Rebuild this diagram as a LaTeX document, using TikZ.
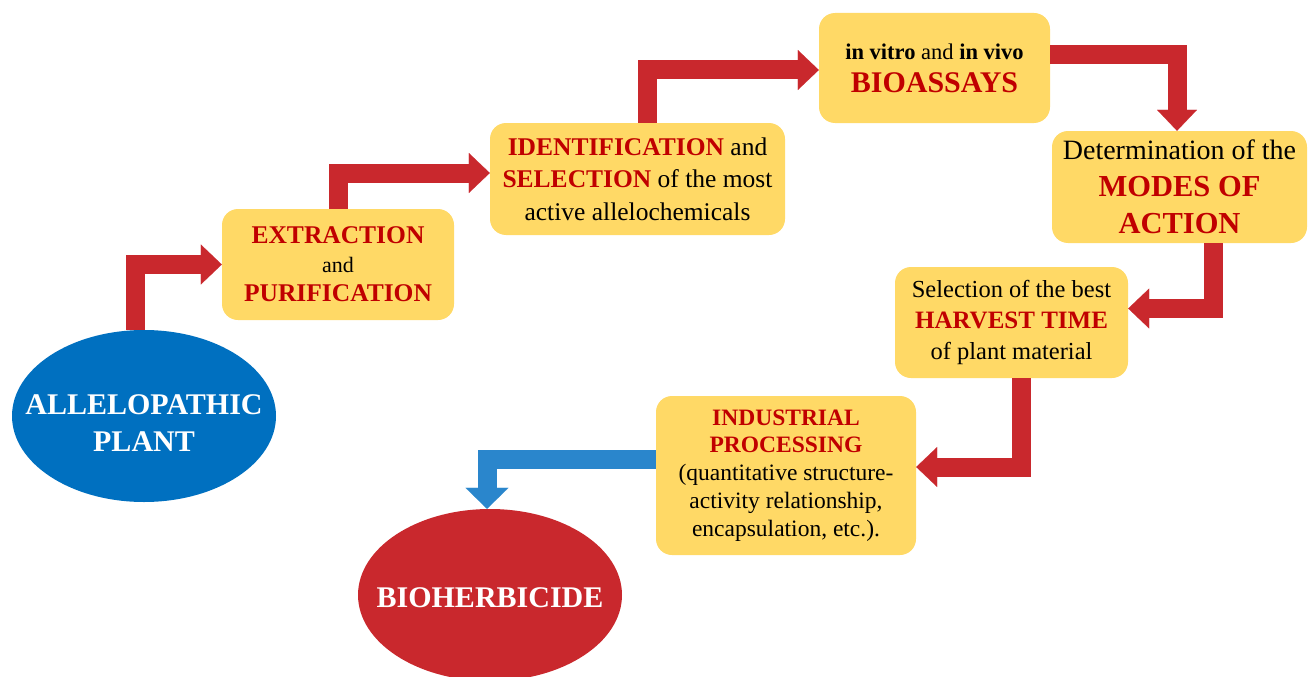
\documentclass[tikz,border=0pt]{standalone}
\usepackage{fontspec}
\setmainfont{Liberation Serif}
\usetikzlibrary{arrows.meta,shapes.geometric}
\definecolor{boxfill}{HTML}{FFD966}
\definecolor{arrred}{HTML}{C9282D}
\definecolor{txtred}{HTML}{C00000}
\definecolor{ellblue}{HTML}{0070C0}
\definecolor{arrblue}{HTML}{2A86CC}
\newcommand{\rb}[1]{\textcolor{txtred}{\textbf{#1}}}
\newcommand{\fs}[2]{\fontsize{#1}{#2}\selectfont}
\begin{document}
\begin{tikzpicture}[x=1pt,y=-1pt,
  stagebox/.style={fill=boxfill, rounded corners=16pt, inner sep=0pt, align=center, text=black},
  endnode/.style={ellipse, inner sep=0pt, minimum width=264pt, minimum height=172pt},
  endtext/.style={align=center, text=white, inner sep=0pt, font=\fs{30}{37}\bfseries},
  redflow/.style={draw=arrred, line width=19pt, line join=miter, -{Triangle[width=40pt,length=21pt,line width=0.1pt]}},
  blueflow/.style={draw=arrblue, line width=19pt, line join=miter, -{Triangle[width=43pt,length=21pt,line width=0.1pt]}}]
\useasboundingbox (0,0) rectangle (1309,677);

\node[endnode, fill=ellblue] (allelo) at (144,416) {};
\node[endtext, yshift=-7pt] (allelotext) at (allelo.center) {ALLELOPATHIC\\ PLANT};

\node[stagebox, minimum width=232pt, minimum height=111pt, font=\fs{25.5}{29}] (extract) at (338,264.5)
  {\rb{EXTRACTION}\\ {\fs{22}{29}and}\\ \rb{PURIFICATION}};

\node[stagebox, minimum width=295pt, minimum height=112pt, font=\fs{25.5}{32.5}] (ident) at (637.5,179)
  {\rb{IDENTIFICATION} and\\ \rb{SELECTION} of the most\\ active allelochemicals};

\node[stagebox, minimum width=231pt, minimum height=110pt, font=\fs{30}{33}] (bioassay) at (934.5,68)
  {{\fs{22.5}{33}\textbf{in vitro} and \textbf{in vivo}}\\ \rb{BIOASSAYS}};

\node[stagebox, minimum width=255pt, minimum height=112pt, font=\fs{30.5}{37}] (modes) at (1179.5,187)
  {{\fs{28}{37}Determination of the}\\ \rb{MODES OF}\\ \rb{ACTION}};

\node[stagebox, minimum width=233pt, minimum height=111pt, font=\fs{24.5}{31}] (harvest) at (1011.5,322.5)
  {Selection of the best\\ {\fs{25}{31}\rb{HARVEST TIME}}\\ of plant material};

\node[stagebox, minimum width=260pt, minimum height=159pt, font=\fs{23.5}{27.8}] (industrial) at (786,475.5)
  {\rb{INDUSTRIAL}\\ \rb{PROCESSING}\\ (quantitative structure-\\ activity relationship,\\ encapsulation, etc.).};

\node[endnode, fill=arrred] (bioh) at (490,595) {};
\node[endtext, yshift=-3pt] (biohtext) at (bioh.center) {BIOHERBICIDE};

\draw[redflow] ([xshift=-9pt]allelo.north) |- (extract.west);
\draw[redflow] (extract.north) |- ([yshift=6pt]ident.west);
\draw[redflow] ([xshift=10pt]ident.north) |- ([yshift=-2pt]bioassay.west);
\draw[redflow] ([yshift=13pt]bioassay.east) -| ([xshift=-2.5pt]modes.north);
\draw[redflow] ([xshift=34pt]modes.south) |- ([yshift=14pt]harvest.east);
\draw[redflow] ([xshift=10pt]harvest.south) |- ([yshift=8.5pt]industrial.east);
\draw[blueflow] ([yshift=16.5pt]industrial.west) -| ([xshift=-3pt]bioh.north);
\end{tikzpicture}
\end{document}
